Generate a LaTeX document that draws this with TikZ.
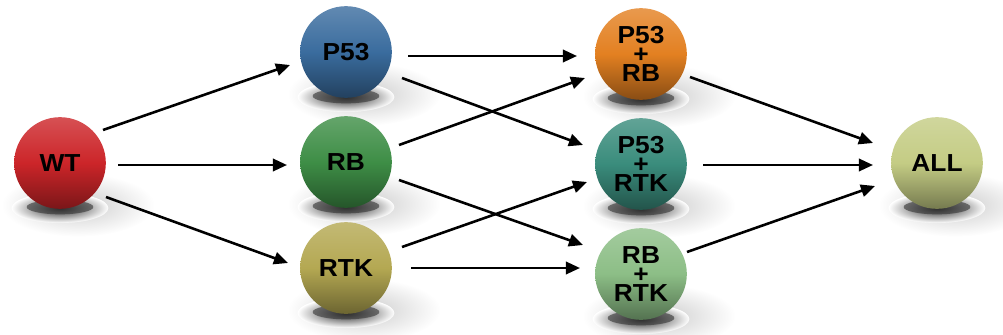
\documentclass[tikz,border=0pt]{standalone}
\usepackage{fontspec}
\setmainfont{Liberation Sans}[FakeStretch=1.07]
\usetikzlibrary{arrows.meta,calc}
\definecolor{cwt}{HTML}{CC2529}
\definecolor{cp}{HTML}{3A6C9E}
\definecolor{crb}{HTML}{3E8E46}
\definecolor{crtk}{HTML}{B4A852}
\definecolor{cpr}{HTML}{E38021}
\definecolor{cpt}{HTML}{3A8C7C}
\definecolor{crr}{HTML}{8CBE86}
\definecolor{call}{HTML}{C4CC84}
\tikzset{
  ball/.style={circle, minimum size=2.75cm, inner sep=0pt, align=center,
    font=\bfseries\fontsize{21}{16}\selectfont, text=black},
  arr/.style={-{Triangle[length=12pt,width=10.5pt]}, line width=2.2pt, black},
}
\newcommand{\myball}[4]{%
  \shade[inner color=black!20, outer color=white] ($#2+(18,42)$) ellipse (2.3cm and 0.95cm);
  \shade[inner color=black!85, outer color=white] ($#2+(0,45)$) ellipse (1.45cm and 0.45cm);
  \fill[black!80, opacity=0.6] ($#2+(0,44)$) ellipse (1.0cm and 0.22cm);
  \node[ball, shade, top color=#3!80!white, bottom color=#3!60!black, middle color=#3] (#1) at #2 {#4};
}
\begin{document}
\begin{tikzpicture}[x=0.03cm,y=-0.03cm]
\useasboundingbox (0,0) rectangle (1003,335);
\myball{wt}{(60,163)}{cwt}{WT}
\myball{p}{(346,52)}{cp}{P53}
\myball{rb}{(346,162)}{crb}{RB}
\myball{rtk}{(346,268)}{crtk}{RTK}
\myball{pr}{(641,54)}{cpr}{P53\\+\\RB}
\myball{pt}{(641,164)}{cpt}{P53\\+\\RTK}
\myball{rr}{(641,274)}{crr}{RB\\+\\RTK}
\myball{all}{(937,163)}{call}{ALL}
\draw[arr] ($(wt)+(43,-33)$) -- ($(p)+(-56,13)$);
\draw[arr] ($(wt)+(58,2)$) -- ($(rb)+(-59,3)$);
\draw[arr] ($(wt)+(46,34)$) -- ($(rtk)+(-58,-5)$);
\draw[arr] ($(p)+(62,4)$) -- ($(pr)+(-64,2)$);
\draw[arr] ($(p)+(56,26)$) -- ($(pt)+(-58,-19)$);
\draw[arr] ($(rb)+(53,-17)$) -- ($(pr)+(-56,24)$);
\draw[arr] ($(rb)+(53,18)$) -- ($(rr)+(-58,-29)$);
\draw[arr] ($(rtk)+(56,-21)$) -- ($(pt)+(-54,18)$);
\draw[arr] ($(rtk)+(65,0)$) -- ($(rr)+(-61,-6)$);
\draw[arr] ($(pr)+(49,23)$) -- ($(all)+(-64,-20)$);
\draw[arr] ($(pt)+(62,1)$) -- ($(all)+(-64,2)$);
\draw[arr] ($(rr)+(46,-22)$) -- ($(all)+(-62,23)$);
\end{tikzpicture}
\end{document}
